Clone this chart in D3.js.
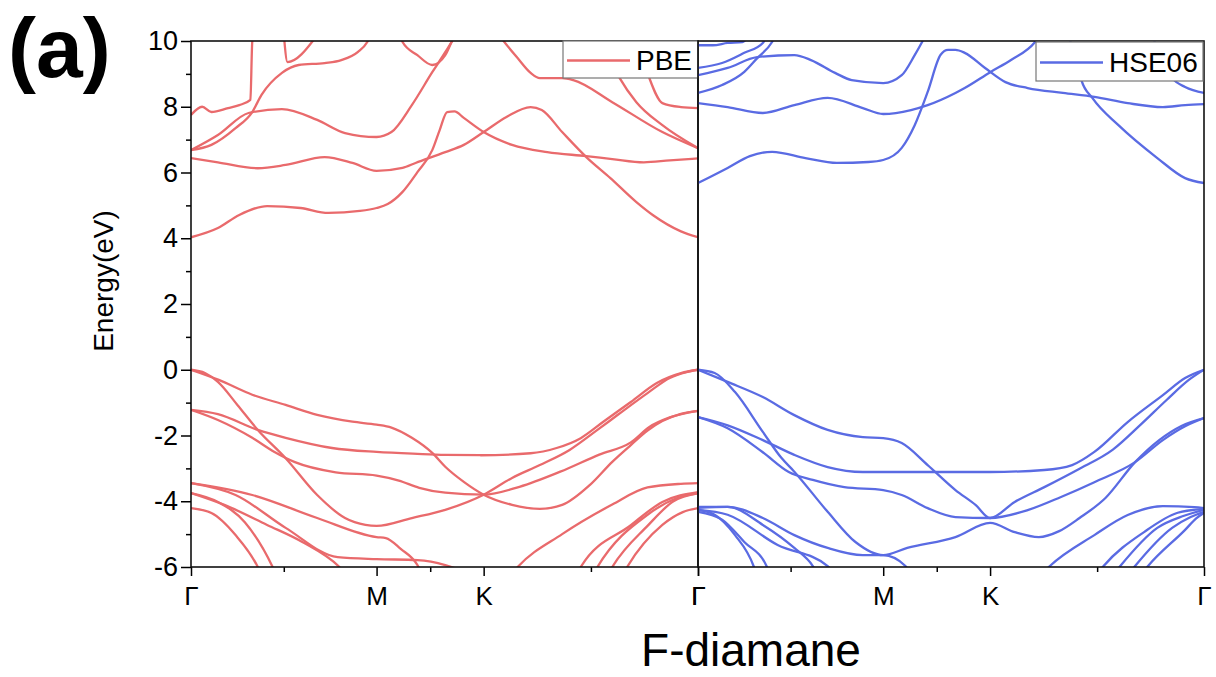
<!DOCTYPE html>
<html>
<head>
<meta charset="utf-8">
<script src="https://cdn.jsdelivr.net/npm/d3@7"></script>
<style>
  body { margin: 0; background: #fff; }
  svg { display: block; font-family: 'Liberation Sans', Arial, sans-serif; }
</style>
</head>
<body>
<div id="chart"></div>
<script>
// High-symmetry path (hexagonal BZ): distances along the k-path
const kTicks = [0, 1, 1.577, 2.732];
const kLabels = ['Γ', 'M', 'K', 'Γ'];
const kMinor = [0.5, 1.289, 2.155];
const eMajor = [-6, -4, -2, 0, 2, 4, 6, 8, 10];
const eMinor = [-5, -3, -1, 1, 3, 5, 7, 9];

// PBE bands, [k, E(eV)]
const pbeValence = [
  [[0,0],[0.15,-0.31],[0.33,-0.76],[0.51,-1.07],[0.68,-1.37],[0.87,-1.58],[1.0,-1.67],[1.08,-1.76],[1.19,-2.07],[1.30,-2.53],[1.37,-2.95],[1.47,-3.41],[1.577,-3.80],[1.73,-4.11],[1.88,-4.23],[2.00,-4.11],[2.15,-3.50],[2.27,-2.80],[2.37,-2.29],[2.46,-1.85],[2.54,-1.56],[2.64,-1.34],[2.732,-1.25]],
  [[0,0],[0.075,-0.10],[0.145,-0.37],[0.25,-1.07],[0.36,-1.83],[0.51,-2.69],[0.68,-3.81],[0.83,-4.51],[0.94,-4.72],[1.0,-4.75],[1.19,-4.51],[1.37,-4.26],[1.577,-3.80],[1.73,-3.29],[1.88,-2.90],[2.04,-2.44],[2.19,-1.83],[2.30,-1.37],[2.46,-0.71],[2.58,-0.25],[2.67,-0.07],[2.732,0]],
  [[0,-1.22],[0.145,-1.35],[0.36,-1.83],[0.51,-2.07],[0.76,-2.38],[1.0,-2.50],[1.22,-2.56],[1.37,-2.59],[1.56,-2.60],[1.83,-2.54],[1.97,-2.38],[2.10,-2.08],[2.22,-1.59],[2.37,-0.98],[2.51,-0.40],[2.64,-0.10],[2.732,0]],
  [[0,-1.22],[0.145,-1.53],[0.33,-2.07],[0.45,-2.50],[0.56,-2.81],[0.78,-3.12],[1.0,-3.22],[1.12,-3.37],[1.23,-3.59],[1.37,-3.74],[1.577,-3.80],[1.77,-3.56],[1.99,-3.10],[2.20,-2.58],[2.37,-2.21],[2.47,-1.74],[2.58,-1.45],[2.732,-1.25]],
  [[0,-3.45],[0.33,-3.81],[0.68,-4.51],[1.0,-5.09],[1.05,-5.12],[1.13,-5.45],[1.22,-5.94],[1.26,-6.4]],
  [[0,-3.45],[0.24,-3.81],[0.51,-4.81],[0.79,-5.70],[1.0,-5.76],[1.22,-5.79],[1.37,-5.94],[1.45,-6.1],[1.55,-6.4]],
  [[0,-4.21],[0.11,-4.36],[0.24,-5.03],[0.36,-6.0],[0.40,-6.5]],
  [[0,-3.75],[0.145,-4.02],[0.29,-4.64],[0.44,-6.0],[0.48,-6.5]],
  [[0,-3.75],[0.18,-4.11],[0.41,-4.72],[0.60,-5.24],[0.80,-6.0],[0.85,-6.3]],
  [[1.70,-6.4],[1.76,-6.0],[2.00,-5.0],[2.27,-4.10],[2.46,-3.58],[2.64,-3.47],[2.732,-3.45]],
  [[2.06,-6.4],[2.10,-6.0],[2.37,-4.73],[2.54,-4.02],[2.732,-3.72]],
  [[2.15,-6.4],[2.19,-6.0],[2.46,-4.41],[2.62,-3.90],[2.732,-3.75]],
  [[2.23,-6.4],[2.27,-6.0],[2.46,-4.75],[2.60,-4.0],[2.732,-3.76]],
  [[2.31,-6.4],[2.35,-6.0],[2.54,-4.72],[2.65,-4.33],[2.732,-4.21]]
];

const pbeConduction = [
  [[0,4.03],[0.145,4.31],[0.26,4.71],[0.41,4.98],[0.59,4.92],[0.74,4.77],[0.91,4.83],[1.0,4.92],[1.06,5.04],[1.14,5.41],[1.22,6.01],[1.30,6.68],[1.34,7.29],[1.38,7.84],[1.42,7.86],[1.47,7.66],[1.577,7.23],[1.73,6.84],[1.92,6.62],[2.13,6.50],[2.27,6.41],[2.44,6.31],[2.58,6.37],[2.732,6.43]],
  [[0,6.44],[0.145,6.31],[0.36,6.13],[0.51,6.23],[0.72,6.47],[0.87,6.29],[1.0,6.05],[1.14,6.14],[1.21,6.29],[1.37,6.62],[1.47,6.84],[1.577,7.23],[1.70,7.69],[1.83,7.99],[1.89,7.90],[2.00,7.23],[2.13,6.47],[2.26,5.83],[2.40,5.10],[2.49,4.70],[2.64,4.21],[2.732,4.03]],
  [[0,6.68],[0.145,7.14],[0.31,7.81],[0.49,7.93],[0.68,7.60],[0.83,7.20],[1.0,7.08],[1.08,7.23],[1.19,8.05],[1.30,9.05],[1.37,9.66],[1.41,10.03],[1.43,10.25]],
  [[0,6.68],[0.11,6.84],[0.24,7.35],[0.33,7.84],[0.38,8.36],[0.49,9.03],[0.58,9.27],[0.72,9.33],[0.81,9.42],[0.90,9.67],[0.95,9.97],[0.97,10.2]],
  [[0,7.75],[0.06,8.0],[0.11,7.84],[0.20,7.96],[0.26,8.05],[0.32,8.21],[0.33,9.97],[0.34,10.3]],
  [[0.50,10.2],[0.52,9.36],[0.67,10.1]],
  [[1.13,10.2],[1.14,9.97],[1.22,9.57],[1.30,9.27],[1.37,9.57],[1.41,10.03],[1.43,10.2]],
  [[1.66,10.18],[1.68,10.03],[1.76,9.48],[1.83,9.03],[1.88,8.87],[2.00,8.87],[2.06,8.81],[2.27,8.14],[2.54,7.23],[2.732,6.74]],
  [[2.20,10.2],[2.31,8.87],[2.40,8.14],[2.54,7.44],[2.732,6.74]],
  [[2.40,10.2],[2.47,8.87],[2.54,8.11],[2.64,7.99],[2.732,7.96]]
];

// HSE06 bands
const hseValence = [
  [[0,0],[0.16,-0.37],[0.35,-0.83],[0.52,-1.38],[0.70,-1.83],[0.89,-2.05],[1.0,-2.08],[1.10,-2.23],[1.24,-2.90],[1.39,-3.66],[1.50,-4.12],[1.577,-4.51],[1.71,-4.02],[1.87,-3.57],[2.05,-3.04],[2.24,-2.43],[2.39,-1.67],[2.53,-0.92],[2.65,-0.31],[2.732,0]],
  [[0,0],[0.09,-0.10],[0.20,-0.68],[0.35,-1.89],[0.45,-2.68],[0.52,-3.10],[0.70,-4.32],[0.85,-5.24],[1.0,-5.64],[1.13,-5.42],[1.39,-5.09],[1.577,-4.66],[1.71,-4.94],[1.84,-5.09],[1.95,-4.91],[2.06,-4.51],[2.20,-3.90],[2.36,-2.81],[2.49,-2.14],[2.61,-1.71],[2.732,-1.47]],
  [[0,-1.44],[0.16,-1.69],[0.35,-2.14],[0.52,-2.59],[0.70,-2.96],[0.89,-3.11],[1.0,-3.11],[1.24,-3.11],[1.577,-3.11],[1.87,-3.05],[2.02,-2.90],[2.14,-2.50],[2.32,-1.59],[2.51,-0.77],[2.63,-0.25],[2.732,0]],
  [[0,-1.44],[0.16,-1.78],[0.35,-2.51],[0.49,-3.11],[0.62,-3.35],[0.79,-3.57],[1.0,-3.66],[1.10,-3.81],[1.24,-4.21],[1.39,-4.48],[1.577,-4.51],[1.78,-4.27],[1.96,-3.87],[2.14,-3.42],[2.36,-2.81],[2.51,-2.14],[2.63,-1.72],[2.732,-1.47]],
  [[0,-4.17],[0.16,-4.17],[0.35,-4.51],[0.52,-5.03],[0.70,-5.42],[0.89,-5.64],[1.0,-5.64],[1.12,-5.97],[1.15,-6.24]],
  [[0,-4.20],[0.16,-4.17],[0.35,-4.72],[0.52,-5.42],[0.62,-5.97],[0.65,-6.25]],
  [[0,-4.26],[0.16,-4.41],[0.43,-5.33],[0.70,-5.97],[0.74,-6.24]],
  [[0,-4.26],[0.09,-4.41],[0.20,-5.03],[0.30,-5.97],[0.32,-6.3]],
  [[0,-4.32],[0.13,-4.56],[0.25,-5.24],[0.37,-5.97],[0.39,-6.3]],
  [[1.85,-6.25],[1.90,-5.97],[2.14,-5.03],[2.32,-4.42],[2.51,-4.15],[2.68,-4.18],[2.732,-4.21]],
  [[2.15,-6.25],[2.19,-5.97],[2.41,-4.93],[2.59,-4.35],[2.732,-4.23]],
  [[2.24,-6.25],[2.28,-5.97],[2.48,-4.81],[2.62,-4.45],[2.732,-4.26]],
  [[2.32,-6.25],[2.36,-5.97],[2.56,-4.81],[2.66,-4.48],[2.732,-4.32]],
  [[2.39,-6.25],[2.43,-5.97],[2.63,-4.87],[2.69,-4.52],[2.732,-4.35]]
];

const hseConduction = [
  [[0,5.68],[0.16,6.14],[0.28,6.50],[0.40,6.63],[0.58,6.44],[0.75,6.29],[0.92,6.32],[1.0,6.38],[1.10,6.75],[1.17,7.44],[1.24,8.45],[1.31,9.58],[1.35,9.73],[1.39,9.73],[1.44,9.64],[1.55,9.18],[1.66,8.75],[1.78,8.57],[1.97,8.42],[2.14,8.30],[2.32,8.11],[2.51,7.99],[2.63,8.05],[2.732,8.08]],
  [[0,8.11],[0.16,7.99],[0.35,7.81],[0.52,8.05],[0.70,8.27],[0.89,7.96],[1.0,7.78],[1.15,7.90],[1.24,8.05],[1.39,8.42],[1.44,8.57],[1.58,9.06],[1.69,9.42],[1.82,9.97],[1.85,10.2]],
  [[0,8.96],[0.16,9.18],[0.32,9.51],[0.52,9.57],[0.61,9.42],[0.74,9.03],[0.83,8.81],[1.0,8.72],[1.10,8.96],[1.17,9.57],[1.21,9.97],[1.23,10.18]],
  [[0,8.42],[0.13,8.66],[0.25,9.06],[0.32,9.48],[0.40,9.97],[0.42,10.18]],
  [[0,9.18],[0.13,9.33],[0.25,9.64],[0.35,9.94],[0.37,10.15]],
  [[0,9.87],[0.08,9.87],[0.16,9.94],[0.24,9.97],[0.28,10.18]],
  [[1.98,10.18],[2.04,9.57],[2.07,8.81],[2.13,8.26],[2.27,7.44],[2.48,6.44],[2.63,5.83],[2.732,5.68]],
  [[2.45,10.2],[2.56,8.87],[2.63,8.60],[2.732,8.42]]
];

const width = 1216;
const height = 677;
const plotTop = 41;
const plotBottom = 567;
const fontStack = "'Liberation Sans', Arial, sans-serif";

const panels = [
  { label: 'PBE', bands: pbeValence.concat(pbeConduction), color: '#e96a6c',
    x0: 191, x1: 698, legend: { x: 563, y: 41, w: 135, h: 37 } },
  { label: 'HSE06', bands: hseValence.concat(hseConduction), color: '#5a6be3',
    x0: 698, x1: 1204, legend: { x: 1036, y: 42, w: 167, h: 39 } }
];

const svg = d3.select('#chart')
  .append('svg')
  .attr('width', width)
  .attr('height', height);

// Shared energy scale
const yScale = d3.scaleLinear()
  .domain([-6, 10])
  .range([plotBottom, plotTop]);

panels.forEach((p, idx) => {
  const xScale = d3.scaleLinear()
    .domain([0, 2.732])
    .range([p.x0, p.x1]);

  // Clip bands to the panel
  svg.append('clipPath')
    .attr('id', 'clip' + idx)
    .append('rect')
    .attr('x', p.x0)
    .attr('y', plotTop)
    .attr('width', p.x1 - p.x0)
    .attr('height', plotBottom - plotTop);

  const line = d3.line()
    .x(d => xScale(d[0]))
    .y(d => yScale(d[1]))
    .curve(d3.curveMonotoneX);

  svg.append('g')
    .attr('clip-path', `url(#clip${idx})`)
    .selectAll('path')
    .data(p.bands)
    .enter()
    .append('path')
    .attr('d', line)
    .attr('fill', 'none')
    .attr('stroke', p.color)
    .attr('stroke-width', 2.3)
    .attr('stroke-linejoin', 'round');

  // Bottom axis: major + minor ticks
  svg.append('g')
    .attr('transform', `translate(0,${plotBottom})`)
    .call(d3.axisBottom(xScale).tickValues(kMinor).tickSize(5).tickFormat(''))
    .call(g => g.select('.domain').remove())
    .call(g => g.selectAll('line').attr('stroke', '#000').attr('stroke-width', 1.5));

  svg.append('g')
    .attr('transform', `translate(0,${plotBottom})`)
    .call(d3.axisBottom(xScale).tickValues(kTicks).tickSize(9).tickPadding(11)
      .tickFormat((d, i) => kLabels[i]))
    .call(g => g.select('.domain').remove())
    .call(g => g.selectAll('line').attr('stroke', '#000').attr('stroke-width', 1.5))
    .call(g => g.selectAll('text')
      .attr('fill', '#000')
      .style('font-family', fontStack)
      .style('font-size', '26px'));

  // Panel frame
  svg.append('rect')
    .attr('x', p.x0)
    .attr('y', plotTop)
    .attr('width', p.x1 - p.x0)
    .attr('height', plotBottom - plotTop)
    .attr('fill', 'none')
    .attr('stroke', '#111')
    .attr('stroke-width', 1.6);

  // Legend
  const lg = svg.append('g');
  lg.append('rect')
    .attr('x', p.legend.x)
    .attr('y', p.legend.y)
    .attr('width', p.legend.w)
    .attr('height', p.legend.h)
    .attr('fill', '#fff')
    .attr('stroke', '#777')
    .attr('stroke-width', 1.2);
  lg.append('line')
    .attr('x1', p.legend.x + 4)
    .attr('x2', p.legend.x + 67)
    .attr('y1', p.legend.y + p.legend.h / 2 + 1)
    .attr('y2', p.legend.y + p.legend.h / 2 + 1)
    .attr('stroke', p.color)
    .attr('stroke-width', 2.3);
  lg.append('text')
    .attr('x', p.legend.x + 73)
    .attr('y', p.legend.y + p.legend.h / 2 + 10)
    .attr('fill', '#000')
    .style('font-size', '28px')
    .text(p.label);
});

// Left energy axis
svg.append('g')
  .attr('transform', 'translate(191,0)')
  .call(d3.axisLeft(yScale).tickValues(eMinor).tickSize(5).tickFormat(''))
  .call(g => g.select('.domain').remove())
  .call(g => g.selectAll('line').attr('stroke', '#000').attr('stroke-width', 1.5));

svg.append('g')
  .attr('transform', 'translate(191,0)')
  .call(d3.axisLeft(yScale).tickValues(eMajor).tickSize(10).tickPadding(3)
    .tickFormat(d => String(d)))
  .call(g => g.select('.domain').remove())
  .call(g => g.selectAll('line').attr('stroke', '#000').attr('stroke-width', 1.5))
  .call(g => g.selectAll('text')
    .attr('fill', '#000')
    .style('font-family', fontStack)
    .style('font-size', '27px'));

// Axis titles
svg.append('text')
  .attr('transform', 'translate(113,281) rotate(-90)')
  .attr('text-anchor', 'middle')
  .attr('fill', '#000')
  .style('font-size', '28px')
  .text('Energy(eV)');

svg.append('text')
  .attr('x', 751)
  .attr('y', 666)
  .attr('text-anchor', 'middle')
  .attr('fill', '#000')
  .style('font-size', '46px')
  .text('F-diamane');

// Panel tag
svg.append('text')
  .attr('x', 8)
  .attr('y', 77)
  .attr('fill', '#000')
  .style('font-size', '84px')
  .style('font-weight', 'bold')
  .text('(a)');
</script>
</body>
</html>
